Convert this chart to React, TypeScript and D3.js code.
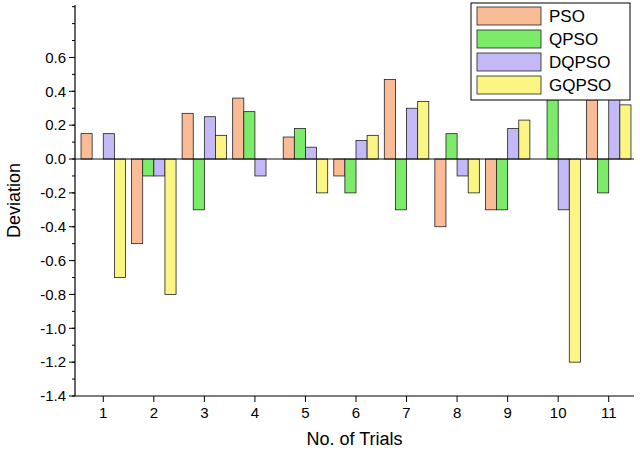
import React from "react";
import * as d3 from "d3";

const trials = ["1", "2", "3", "4", "5", "6", "7", "8", "9", "10", "11"];
const seriesNames = ["PSO", "QPSO", "DQPSO", "GQPSO"];
const colors = ["#F9BC96", "#7DEB6A", "#C4B8F6", "#FBF584"];
const pso = [0.15, -0.5, 0.27, 0.36, 0.13, -0.1, 0.47, -0.4, -0.3, 0, 0.35];
const qpso = [0, -0.1, -0.3, 0.28, 0.18, -0.2, -0.3, 0.15, -0.3, 0.35, -0.2];
const dqpso = [0.15, -0.1, 0.25, -0.1, 0.07, 0.11, 0.3, -0.1, 0.18, -0.3, 0.37];
const gqpso = [-0.7, -0.8, 0.14, 0, -0.2, 0.14, 0.34, -0.2, 0.23, -1.2, 0.32];
const yTicks = [-1.4, -1.2, -1.0, -0.8, -0.6, -0.4, -0.2, 0, 0.2, 0.4, 0.6];

const W = 640, H = 453;
const m = { left: 75, right: 6, top: 5, bottom: 57 };

export default function App() {
  const series = [pso, qpso, dqpso, gqpso];
  const x = d3.scaleBand().domain(trials).range([m.left + 3, W - m.right]).paddingInner(0.12).paddingOuter(0.06);
  const xs = d3.scaleBand().domain(seriesNames).range([0, x.bandwidth()]);
  const y = d3.scaleLinear().domain([-1.4, 0.91]).range([H - m.bottom, m.top]);
  const minor = d3.range(-1.4, 0.91, 0.1).map((v) => +v.toFixed(2));
  const font = "Liberation Sans, Arial, sans-serif";
  const y0 = y(0);
  return (
    <svg width={W} height={H} style={{ position: "absolute", left: 0, top: 0, background: "white" }} fontFamily={font}>
      {series.map((vals, si) =>
        vals.map((v, i) =>
          v === 0 ? null : (
            <rect key={`${si}-${i}`} x={x(trials[i])! + xs(seriesNames[si])!} width={xs.bandwidth()}
              y={Math.min(y(v), y0)} height={Math.abs(y(v) - y0)} fill={colors[si]} stroke="#222" strokeWidth={0.8} />
          )
        )
      )}
      <line x1={m.left} x2={W - m.right} y1={y0} y2={y0} stroke="#111" strokeWidth={1} />
      <line x1={m.left} x2={m.left} y1={m.top} y2={H - m.bottom} stroke="#000" strokeWidth={1.2} />
      <line x1={m.left} x2={W - m.right} y1={H - m.bottom} y2={H - m.bottom} stroke="#000" strokeWidth={1.2} />
      {minor.map((v) => (
        <line key={v} x1={m.left - 3} x2={m.left} y1={y(v)} y2={y(v)} stroke="#000" />
      ))}
      {yTicks.map((v) => (
        <g key={v}>
          <line x1={m.left - 6} x2={m.left} y1={y(v)} y2={y(v)} stroke="#000" />
          <text x={m.left - 9} y={y(v)} dy="0.35em" textAnchor="end" fontSize={15}>{v.toFixed(1)}</text>
        </g>
      ))}
      {trials.map((t) => (
        <g key={t}>
          <line x1={x(t)! + x.bandwidth() / 2} x2={x(t)! + x.bandwidth() / 2} y1={H - m.bottom} y2={H - m.bottom + 6} stroke="#000" />
          <text x={x(t)! + x.bandwidth() / 2} y={H - m.bottom + 22} textAnchor="middle" fontSize={15}>{t}</text>
        </g>
      ))}
      <text x={(m.left + W - m.right) / 2} y={H - 8} textAnchor="middle" fontSize={18}>No. of Trials</text>
      <text transform={`translate(20,${(m.top + H - m.bottom) / 2}) rotate(-90)`} textAnchor="middle" fontSize={18}>Deviation</text>
      <rect x={471} y={3} width={159} height={97} fill="white" stroke="#000" />
      {seriesNames.map((n, i) => (
        <g key={n}>
          <rect x={477} y={7 + i * 23} width={64} height={18} fill={colors[i]} stroke="#222" strokeWidth={0.8} />
          <text x={549} y={16 + i * 23} dy="0.35em" fontSize={17}>{n}</text>
        </g>
      ))}
    </svg>
  );
}
